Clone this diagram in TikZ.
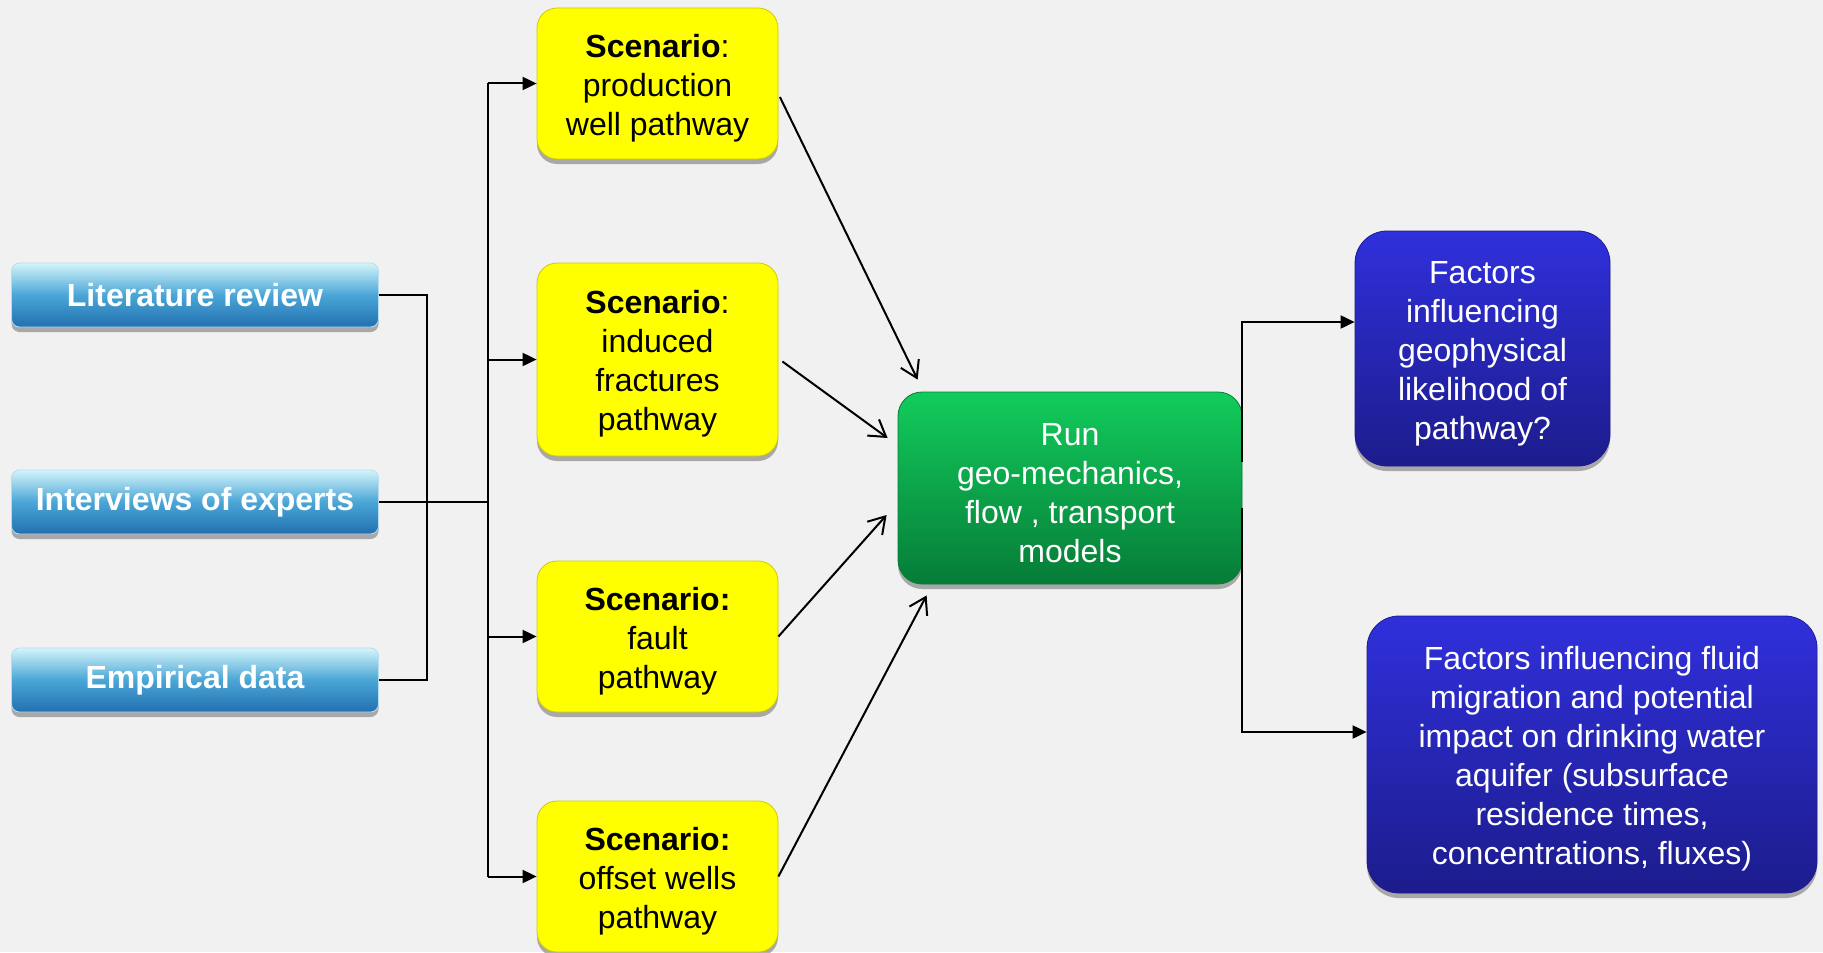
\documentclass[tikz,border=0pt]{standalone}
\usepackage{fontspec}
\setmainfont{Liberation Sans}
\usetikzlibrary{arrows.meta,shadows}
\definecolor{bgcol}{HTML}{F1F1F1}
\definecolor{srctop}{HTML}{D4F4FA}
\definecolor{srcmid}{HTML}{4AA6D6}
\definecolor{srcbot}{HTML}{2270B0}
\definecolor{scen}{HTML}{FFFF00}
\definecolor{runtop}{HTML}{12CC5C}
\definecolor{runbot}{HTML}{067C38}
\definecolor{facttop}{HTML}{3030DC}
\definecolor{factbot}{HTML}{1C1C8C}
\newcommand\topgap{\rule{0pt}{16pt}}
\begin{document}
\begin{tikzpicture}[x=0.5pt,y=-0.5pt,line width=1pt,
  every node/.style={font=\fontsize{16pt}{19.5pt}\selectfont,align=center,inner sep=0pt},
  shad/.style={drop shadow={shadow xshift=0pt,shadow yshift=-2.5pt,opacity=0.3,fill=black}},
  srcbox/.style={shad,rounded corners=4pt,draw=srcmid!40!white,line width=0.4pt,
    top color=srctop,bottom color=srcbot,middle color=srcmid,text=white,
    minimum width=183.5pt,minimum height=32pt,font=\fontsize{16pt}{19.5pt}\selectfont\bfseries},
  scenbox/.style={shad,rounded corners=10pt,fill=scen,draw=scen!80!black,line width=0.4pt,
    minimum width=120.5pt},
  runbox/.style={shad,rounded corners=12pt,top color=runtop,bottom color=runbot,
    draw=runbot,line width=0.4pt,text=white,minimum width=172pt,minimum height=96pt},
  factbox/.style={shad,rounded corners=16pt,top color=facttop,bottom color=factbot,
    draw=factbot,line width=0.4pt,text=white},
  fed/.style={-{Triangle[length=7pt,width=6.5pt]}},
  into/.style={-{Straight Barb[length=8pt,width=10pt]}}]
\fill[bgcol] (0,0) rectangle (1823,952);

% sources
\node[srcbox] (lit) at (195,295) {Literature review};
\node[srcbox] (int) at (195,502) {Interviews of experts};
\node[srcbox] (emp) at (195,680) {Empirical data};

% scenarios
\node[scenbox,minimum height=75.5pt] (well) at (657.5,83.5) {\topgap\textbf{Scenario}:\\production\\well pathway};
\node[scenbox,minimum height=96.5pt] (frac) at (657.5,359.5) {\topgap\textbf{Scenario}:\\induced\\fractures\\pathway};
\node[scenbox,minimum height=75.5pt] (fault) at (657.5,636.5) {\topgap\textbf{Scenario:}\\fault\\pathway};
\node[scenbox,minimum height=75.5pt] (offset) at (657.5,876.5) {\topgap\textbf{Scenario:}\\offset wells\\pathway};

% models and outcomes
\node[runbox] (run) at (1070,488) {\topgap Run\\geo-mechanics,\\flow , transport\\models};
\node[factbox,minimum width=127.5pt,minimum height=117.5pt] (like) at (1482.5,348.5) {\topgap Factors\\influencing\\geophysical\\likelihood of\\pathway?};
\node[factbox,minimum width=225pt,minimum height=138.5pt] (impact) at (1592,754.5) {\topgap Factors influencing fluid\\migration and potential\\impact on drinking water\\aquifer (subsurface\\residence times,\\concentrations, fluxes)};

\coordinate (jl) at (427,502);
\coordinate (jm) at (488,502);
\draw (lit.east) -| (jl) |- (emp.east);
\draw (int.east) -- (jm);
\draw (jm |- well.west) -- (jm |- offset.west);
\draw[fed] (jm |- well.west) -- (well.west);
\draw[fed] (jm |- frac.west) -- (frac.west);
\draw[fed] (jm |- fault.west) -- (fault.west);
\draw[fed] (jm |- offset.west) -- (offset.west);

\draw[into] ([xshift=0.75pt,yshift=-6.75pt]well.east) -- ([xshift=10pt,yshift=6pt]run.north west);
\draw[into] ([xshift=2pt,yshift=-1pt]frac.east) -- ([xshift=-5pt,yshift=25pt]run.west);
\draw[into] (fault.east) -- ([xshift=-5.5pt,yshift=-13.5pt]run.west);
\draw[into] (offset.east) -- ([xshift=14.5pt,yshift=-5.5pt]run.south west);

\draw[fed] ([yshift=13pt]run.east) |- ([yshift=13.25pt]like.west);
\draw[fed] ([yshift=-10pt]run.east) |- ([yshift=11.25pt]impact.west);
\end{tikzpicture}
\end{document}
